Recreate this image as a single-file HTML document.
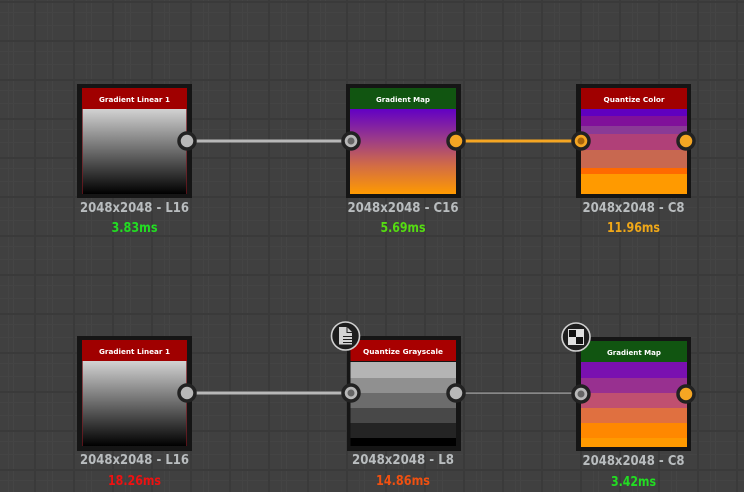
<!DOCTYPE html>
<html>
<head>
<meta charset="utf-8">
<style>
html,body{margin:0;padding:0;background:#404040;}
svg{display:block;}
.dim{font:bold 13px "DejaVu Sans",sans-serif;fill:#b9bdbf;text-anchor:middle;}
.ms{font:bold 13px "DejaVu Sans",sans-serif;text-anchor:middle;}
.hd{font:bold 7.4px "DejaVu Sans",sans-serif;fill:#fff;text-anchor:middle;}
</style>
</head>
<body>
<svg width="744" height="492" viewBox="0 0 744 492" xmlns="http://www.w3.org/2000/svg">
<defs>
<pattern id="grid" x="34" y="1" width="39" height="39" patternUnits="userSpaceOnUse">
<rect width="39" height="39" fill="#404040"/>
<rect x="13" y="0" width="1" height="39" fill="#444444"/>
<rect x="18" y="0" width="1" height="39" fill="#454545"/>
<rect x="0" y="11" width="39" height="1" fill="#444444"/>
<rect x="0" y="24" width="39" height="1" fill="#444444"/>
<rect x="0" y="0" width="2" height="39" fill="#3a3a3a"/>
<rect x="0" y="0" width="39" height="2" fill="#3a3a3a"/>
</pattern>
<linearGradient id="gray" x1="0" y1="0" x2="0" y2="1">
<stop offset="0" stop-color="#d2d2d2"/>
<stop offset="0.5" stop-color="#6a6a6a"/>
<stop offset="1" stop-color="#000"/>
</linearGradient>
<linearGradient id="map" x1="0" y1="0" x2="0" y2="1">
<stop offset="0" stop-color="#6200c4"/>
<stop offset="0.35" stop-color="#9a3a8a"/>
<stop offset="0.65" stop-color="#d06a48"/>
<stop offset="1" stop-color="#ff9a00"/>
</linearGradient>
</defs>
<rect width="744" height="492" fill="url(#grid)"/>

<!-- connectors -->
<rect x="192" y="139.5" width="154" height="3" fill="#b8b8b8"/>
<rect x="461" y="139.5" width="120" height="3" fill="#f5a623"/>
<rect x="192" y="391.5" width="154" height="3" fill="#b8b8b8"/>
<rect x="461" y="392.5" width="120" height="1.2" fill="#a8a8a8"/>

<!-- Node 1 -->
<rect x="77" y="84" width="115" height="114" fill="#151515"/>
<rect x="82" y="88" width="105" height="106" fill="#7a1a22"/>
<rect x="82.7" y="109" width="103.6" height="85" fill="url(#gray)"/>
<rect x="82" y="88" width="105" height="21" fill="#a00000"/>
<text class="hd" x="134.5" y="102" textLength="71" lengthAdjust="spacingAndGlyphs">Gradient Linear 1</text>

<!-- Node 2 -->
<rect x="346" y="84" width="115" height="114" fill="#151515"/>
<rect x="350" y="109" width="106" height="85" fill="url(#map)"/>
<rect x="350" y="88" width="106" height="21" fill="#115511"/>
<text class="hd" x="403" y="102" textLength="54" lengthAdjust="spacingAndGlyphs">Gradient Map</text>

<!-- Node 3 -->
<rect x="576" y="84" width="115" height="114" fill="#151515"/>
<rect x="581" y="88" width="106" height="21" fill="#a00000"/>
<rect x="581" y="109" width="106" height="7" fill="#6000c0"/>
<rect x="581" y="116" width="106" height="10" fill="#80109a"/>
<rect x="581" y="126" width="106" height="8" fill="#8a3a96"/>
<rect x="581" y="134" width="106" height="16" fill="#b04078"/>
<rect x="581" y="150" width="106" height="18" fill="#c86850"/>
<rect x="581" y="168" width="106" height="6" fill="#ff6a00"/>
<rect x="581" y="174" width="106" height="20" fill="#ff9a00"/>
<text class="hd" x="634" y="102" textLength="61" lengthAdjust="spacingAndGlyphs">Quantize Color</text>

<!-- Node 4 -->
<rect x="77" y="336" width="115" height="115" fill="#151515"/>
<rect x="82" y="340" width="105" height="106" fill="#7a1a22"/>
<rect x="82.7" y="361" width="103.6" height="85" fill="url(#gray)"/>
<rect x="82" y="340" width="105" height="21" fill="#a00000"/>
<text class="hd" x="134.5" y="354" textLength="71" lengthAdjust="spacingAndGlyphs">Gradient Linear 1</text>

<!-- Node 5 -->
<rect x="347" y="336" width="114" height="115" fill="#151515"/>
<rect x="350.5" y="340" width="105.5" height="21" fill="#a80000"/>
<rect x="350.5" y="362" width="105.5" height="16" fill="#b4b4b4"/>
<rect x="350.5" y="378" width="105.5" height="15" fill="#909090"/>
<rect x="350.5" y="393" width="105.5" height="15" fill="#6c6c6c"/>
<rect x="350.5" y="408" width="105.5" height="15" fill="#484848"/>
<rect x="350.5" y="423" width="105.5" height="15" fill="#242424"/>
<rect x="350.5" y="438" width="105.5" height="8" fill="#000"/>
<text class="hd" x="403" y="354" textLength="80" lengthAdjust="spacingAndGlyphs">Quantize Grayscale</text>

<!-- Node 6 -->
<rect x="576" y="337" width="115" height="114" fill="#151515"/>
<rect x="581" y="341" width="106" height="21" fill="#115511"/>
<rect x="581" y="362" width="106" height="16" fill="#7a10b0"/>
<rect x="581" y="378" width="106" height="15" fill="#983090"/>
<rect x="581" y="393" width="106" height="15" fill="#c05070"/>
<rect x="581" y="408" width="106" height="15" fill="#e07040"/>
<rect x="581" y="423" width="106" height="15" fill="#ff8800"/>
<rect x="581" y="438" width="106" height="9" fill="#ff9a00"/>
<text class="hd" x="634" y="355" textLength="54" lengthAdjust="spacingAndGlyphs">Gradient Map</text>

<!-- Ports row 1 -->
<circle cx="187" cy="141" r="8" fill="#b8b8b8" stroke="#222" stroke-width="3.5"/>
<circle cx="351" cy="141" r="8" fill="#b8b8b8" stroke="#222" stroke-width="3.5"/>
<circle cx="351" cy="141" r="3.5" fill="#666"/>
<circle cx="456" cy="141" r="8" fill="#f5a623" stroke="#222" stroke-width="3.5"/>
<circle cx="581" cy="141" r="8" fill="#f5a623" stroke="#222" stroke-width="3.5"/>
<circle cx="581" cy="141" r="3.5" fill="#a8650c"/>
<circle cx="686" cy="141" r="8" fill="#f5a623" stroke="#222" stroke-width="3.5"/>

<!-- Ports row 2 -->
<circle cx="187" cy="393" r="8" fill="#b8b8b8" stroke="#222" stroke-width="3.5"/>
<circle cx="351" cy="393" r="8" fill="#b8b8b8" stroke="#222" stroke-width="3.5"/>
<circle cx="351" cy="393" r="3.5" fill="#666"/>
<circle cx="456" cy="393" r="8" fill="#b8b8b8" stroke="#222" stroke-width="3.5"/>
<circle cx="581" cy="394" r="8" fill="#b8b8b8" stroke="#222" stroke-width="3.5"/>
<circle cx="581" cy="394" r="3.5" fill="#666"/>
<circle cx="686" cy="394" r="8" fill="#f5a623" stroke="#222" stroke-width="3.5"/>

<!-- Badge: document -->
<circle cx="345.5" cy="336" r="14" fill="#1e1e1e" stroke="#d0d0d0" stroke-width="1.6"/>
<path d="M339 327h8l5 5v12.500h-13z" fill="#d4d4d4"/>
<path d="M347 327v5.500h5" fill="none" stroke="#1e1e1e" stroke-width="1"/>
<rect x="343" y="336" width="9" height="1" fill="#1e1e1e"/>
<rect x="343" y="339" width="9" height="1" fill="#1e1e1e"/>
<rect x="343" y="342" width="9" height="1" fill="#1e1e1e"/>

<!-- Badge: checker -->
<circle cx="576" cy="337" r="14" fill="#1e1e1e" stroke="#d0d0d0" stroke-width="1.6"/>
<rect x="568" y="329" width="16" height="16" fill="#e0e0e0"/>
<rect x="569" y="330" width="7" height="7" fill="#111"/>
<rect x="576" y="337" width="7" height="7" fill="#111"/>

<!-- Dimension labels -->
<text class="dim" x="134.5" y="212" textLength="109" lengthAdjust="spacingAndGlyphs">2048x2048 - L16</text>
<text class="dim" x="403" y="212" textLength="111" lengthAdjust="spacingAndGlyphs">2048x2048 - C16</text>
<text class="dim" x="633.5" y="212" textLength="102" lengthAdjust="spacingAndGlyphs">2048x2048 - C8</text>
<text class="dim" x="134.5" y="464" textLength="109" lengthAdjust="spacingAndGlyphs">2048x2048 - L16</text>
<text class="dim" x="403" y="464" textLength="102" lengthAdjust="spacingAndGlyphs">2048x2048 - L8</text>
<text class="dim" x="633.5" y="465" textLength="102" lengthAdjust="spacingAndGlyphs">2048x2048 - C8</text>

<!-- Timings -->
<text class="ms" x="134.5" y="232" fill="#22dd22" textLength="46" lengthAdjust="spacingAndGlyphs">3.83ms</text>
<text class="ms" x="403" y="232" fill="#55dd11" textLength="45" lengthAdjust="spacingAndGlyphs">5.69ms</text>
<text class="ms" x="633.5" y="232" fill="#f0a818" textLength="53" lengthAdjust="spacingAndGlyphs">11.96ms</text>
<text class="ms" x="134.5" y="485" fill="#ee1111" textLength="53" lengthAdjust="spacingAndGlyphs">18.26ms</text>
<text class="ms" x="403" y="485" fill="#f05010" textLength="54" lengthAdjust="spacingAndGlyphs">14.86ms</text>
<text class="ms" x="633.5" y="486" fill="#22dd22" textLength="45" lengthAdjust="spacingAndGlyphs">3.42ms</text>
</svg>
</body>
</html>
